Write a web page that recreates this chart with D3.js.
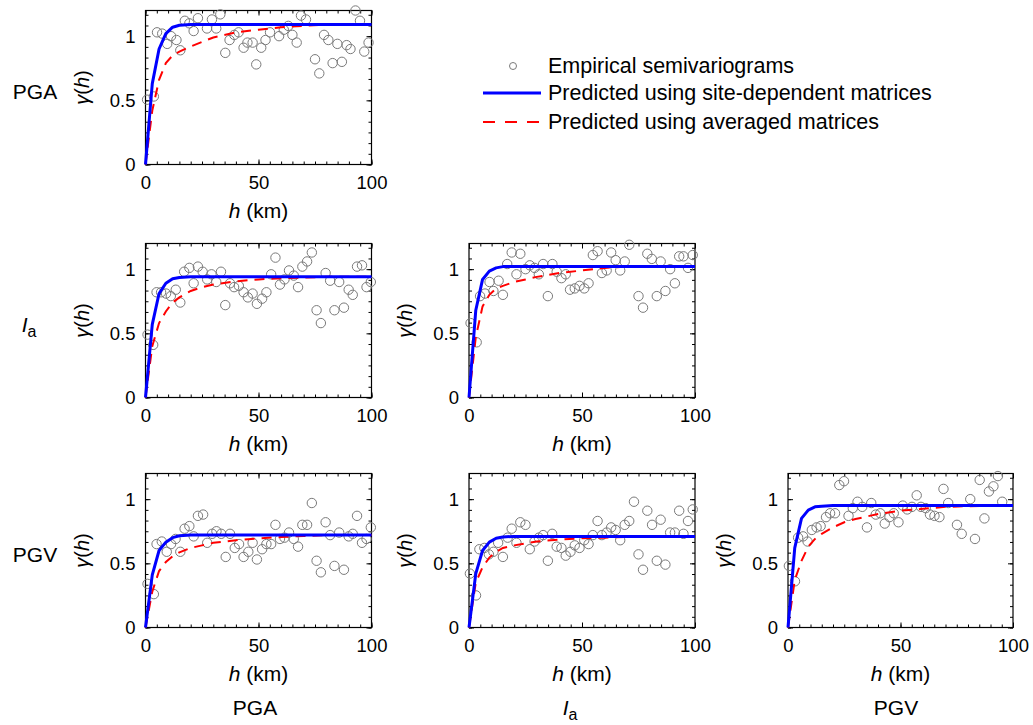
<!DOCTYPE html>
<html>
<head>
<meta charset="utf-8">
<script src="https://cdn.jsdelivr.net/npm/d3@7"></script>
<style>
  body { margin: 0; background: #fff; }
  text { font-family: "Liberation Sans", Arial, Helvetica, sans-serif; fill: #000; }
</style>
</head>
<body>
<svg id="chart" width="1033" height="725"></svg>
<script>
// Intensity measures (rows and columns of the semivariogram matrix)
const measures = ["PGA", "Ia", "PGV"];

// Axis ticks
const xTicks = [0, 50, 100];
const yTicks = [0, 0.5, 1];

// Lags (km) at which the fitted models are evaluated
const modelLag = [0, 3, 6, 9, 12, 15, 20, 25, 30, 40, 50, 60, 70, 80, 90, 100];

// PGA – PGA
const pgaPgaLag = [0.7,3.7,5.1,7.4,9.6,11.3,13.7,15.4,17.4,19.4,21.3,23.2,27.2,29.4,31.3,33.1,35.3,37.2,39.3,41.2,43.4,45.1,47.4,49.0,51.2,53.1,55.1,59.1,61.2,63.2,65.0,66.9,68.8,71.0,75.0,76.9,79.0,80.9,82.8,84.9,86.9,89.0,90.7,92.9,94.9,96.8,98.7];
const pgaPgaEmp = [0.505,0.53,1.03,1.02,0.94,1.00,0.97,0.89,1.12,1.10,1.04,1.14,1.06,1.13,1.06,1.17,0.87,0.97,1.01,1.03,0.91,0.95,0.95,0.78,0.91,0.97,1.03,1.00,1.05,1.08,1.01,0.95,1.16,1.13,0.82,0.71,1.01,0.97,0.79,0.94,0.80,0.93,0.90,1.20,1.12,0.88,0.95];
const pgaPgaSite = [0,0.63,0.90,1.02,1.07,1.085,1.09,1.09,1.09,1.09,1.09,1.09,1.09,1.09,1.09,1.09];
const pgaPgaAvg  = [0,0.42,0.66,0.79,0.85,0.88,0.92,0.955,0.99,1.03,1.05,1.07,1.08,1.09,1.09,1.09];

// Ia – PGA
const iaPgaLag = [0.9,3.4,4.9,6.9,9.1,11.2,13.4,15.4,17.1,19.4,21.3,23.2,25.3,27.3,29.2,31.3,33.4,35.3,37.4,39.2,41.3,43.4,45.3,47.4,49.3,51.6,53.5,55.6,57.5,59.5,61.5,63.5,65.6,67.5,69.4,71.5,73.6,75.7,77.6,79.7,81.7,83.6,85.7,87.8,89.9,91.7,93.6,95.8,97.8,99.7];
const iaPgaEmp = [0.49,0.41,0.82,0.82,0.81,0.79,0.84,0.74,0.98,1.01,0.89,1.02,0.98,0.92,0.96,0.90,0.98,0.72,0.89,0.86,0.87,0.82,0.78,0.81,0.73,0.77,0.82,0.96,1.09,0.88,0.92,0.99,0.95,0.86,1.02,1.06,1.13,0.68,0.58,0.97,0.91,0.68,0.90,0.70,0.84,0.80,1.02,1.03,0.86,0.90];
const iaPgaSite = [0,0.57,0.81,0.89,0.925,0.935,0.94,0.94,0.94,0.94,0.94,0.94,0.94,0.94,0.94,0.94];
const iaPgaAvg  = [0,0.40,0.58,0.67,0.74,0.78,0.83,0.86,0.88,0.905,0.92,0.93,0.935,0.94,0.94,0.94];

// Ia – Ia
const iaIaLag = [0.7,3.4,4.9,7.1,9.1,10.8,13.1,15.0,16.9,18.9,21.0,22.7,25.0,26.9,29.0,30.9,32.8,34.9,36.9,38.8,40.9,42.8,44.7,46.8,48.9,51.0,52.9,54.8,56.9,58.8,60.9,62.9,64.9,66.9,68.9,70.9,75.0,77.0,78.9,80.9,83.1,84.8,86.9,89.0,91.1,93.0,94.9,96.9,99.0];
const iaIaEmp = [0.58,0.43,0.79,0.81,0.90,0.83,0.91,0.80,1.04,1.13,0.96,1.12,1.00,1.03,1.01,0.96,1.04,0.79,1.04,0.98,0.93,0.96,0.84,0.85,0.87,0.85,0.89,1.11,1.14,0.97,0.99,1.13,1.07,0.99,1.06,1.19,0.79,0.70,1.12,1.08,0.79,1.06,0.83,1.00,0.89,1.10,1.10,1.01,1.11];
const iaIaSite = [0,0.68,0.92,0.985,1.01,1.02,1.02,1.02,1.02,1.02,1.02,1.02,1.02,1.02,1.02,1.02];
const iaIaAvg  = [0,0.47,0.71,0.80,0.85,0.87,0.90,0.92,0.94,0.97,0.99,1.01,1.02,1.02,1.02,1.02];

// PGV – PGA
const pgvPgaLag = [0.9,3.7,4.9,7.2,9.4,11.3,13.3,15.4,17.3,19.4,21.3,23.2,25.5,27.3,29.5,31.4,33.5,35.5,37.4,39.5,41.4,43.4,45.5,47.4,49.3,51.6,53.5,55.6,57.5,59.5,61.5,63.5,65.6,67.5,69.4,71.5,73.6,75.7,77.6,79.7,81.7,83.6,85.7,87.8,89.9,91.7,93.6,95.8,97.8,99.7];
const pgvPgaEmp = [0.34,0.26,0.65,0.67,0.59,0.65,0.69,0.59,0.77,0.79,0.71,0.87,0.88,0.66,0.73,0.75,0.73,0.55,0.73,0.62,0.65,0.55,0.59,0.66,0.53,0.61,0.65,0.65,0.80,0.69,0.70,0.74,0.69,0.63,0.80,0.80,0.97,0.52,0.43,0.82,0.72,0.48,0.74,0.45,0.71,0.73,0.87,0.66,0.69,0.78];
const pgvPgaSite = [0,0.41,0.60,0.665,0.70,0.715,0.72,0.72,0.72,0.72,0.72,0.72,0.72,0.72,0.72,0.72];
const pgvPgaAvg  = [0,0.28,0.44,0.51,0.555,0.585,0.62,0.64,0.66,0.68,0.695,0.705,0.713,0.72,0.72,0.72];

// PGV – Ia
const pgvIaLag = [0.4,3.1,4.6,6.8,8.8,10.8,12.9,15.0,17.1,18.9,21.0,22.7,25.0,26.9,29.0,30.9,32.8,34.9,36.8,38.8,40.9,42.8,44.9,46.8,48.9,51.0,52.9,54.8,56.9,58.8,60.9,62.9,64.9,66.9,68.9,70.9,73.0,75.0,77.0,78.9,81.0,83.1,84.8,86.9,89.0,91.1,93.0,94.9,96.9,99.0];
const pgvIaEmp = [0.42,0.25,0.61,0.62,0.57,0.59,0.66,0.55,0.70,0.77,0.66,0.82,0.80,0.61,0.67,0.70,0.72,0.52,0.73,0.63,0.62,0.56,0.59,0.64,0.62,0.68,0.65,0.72,0.83,0.72,0.74,0.78,0.76,0.68,0.80,0.83,0.98,0.57,0.45,0.91,0.80,0.52,0.84,0.49,0.74,0.74,0.91,0.73,0.83,0.92];
const pgvIaSite = [0,0.42,0.60,0.665,0.695,0.705,0.71,0.71,0.71,0.71,0.71,0.71,0.71,0.71,0.71,0.71];
const pgvIaAvg  = [0,0.35,0.47,0.545,0.59,0.62,0.64,0.655,0.67,0.685,0.695,0.70,0.705,0.71,0.71,0.71];

// PGV – PGV
const pgvPgvLag = [0.4,3.1,4.5,6.7,8.7,10.6,12.7,14.5,16.9,18.7,20.9,22.8,24.9,26.9,28.8,30.9,33.0,35.1,37.0,39.0,41.0,43.0,45.1,47.0,49.1,51.0,53.0,55.1,57.2,59.1,61.2,63.1,65.1,67.3,69.1,71.2,75.1,77.2,81.0,83.1,85.2,87.3,89.3,91.3,93.3,95.2];
const pgvPgvEmp = [0.48,0.36,0.70,0.71,0.67,0.76,0.78,0.79,0.86,0.89,0.89,1.11,1.14,0.87,0.93,0.98,0.94,0.78,0.97,0.88,0.89,0.81,0.86,0.89,0.82,0.95,0.92,0.94,1.03,0.94,0.93,0.88,0.87,0.86,1.08,0.97,0.80,0.73,1.00,0.69,1.15,0.85,1.06,1.10,1.18,0.98];
const pgvPgvSite = [0,0.62,0.85,0.915,0.94,0.945,0.95,0.95,0.95,0.95,0.95,0.95,0.95,0.95,0.95,0.95];
const pgvPgvAvg  = [0,0.37,0.52,0.63,0.69,0.73,0.78,0.82,0.845,0.885,0.91,0.925,0.94,0.945,0.95,0.95];

// Lower-triangular layout of panels
const panels = [
  { row: 0, col: 0, lag: pgaPgaLag, emp: pgaPgaEmp, site: pgaPgaSite, avg: pgaPgaAvg },
  { row: 1, col: 0, lag: iaPgaLag,  emp: iaPgaEmp,  site: iaPgaSite,  avg: iaPgaAvg },
  { row: 1, col: 1, lag: iaIaLag,   emp: iaIaEmp,   site: iaIaSite,   avg: iaIaAvg },
  { row: 2, col: 0, lag: pgvPgaLag, emp: pgvPgaEmp, site: pgvPgaSite, avg: pgvPgaAvg },
  { row: 2, col: 1, lag: pgvIaLag,  emp: pgvIaEmp,  site: pgvIaSite,  avg: pgvIaAvg },
  { row: 2, col: 2, lag: pgvPgvLag, emp: pgvPgvEmp, site: pgvPgvSite, avg: pgvPgvAvg }
];

const colLeft = [145.5, 469, 788];
const colWidth = [226, 226, 225];
const rowTop = [10.5, 243.5, 473.5];
const panelHeight = 154;

const BLUE = "#0000ff", RED = "#ff0000", GREY = "#7a7a7a";
const TICK_FS = 18.5;   // tick labels
const FS = 21;          // titles and labels

const svg = d3.select("#chart");

// Writes a measure name; "Ia" becomes italic I with subscript a
function measureLabel(sel, name) {
  if (name === "Ia") {
    sel.append("tspan").attr("font-style", "italic").text("I");
    sel.append("tspan").attr("font-size", 16).attr("dy", 5).text("a");
  } else {
    sel.text(name);
  }
}

panels.forEach(p => {
  const left = colLeft[p.col], top = rowTop[p.row];
  const w = colWidth[p.col], h = panelHeight;
  const g = svg.append("g").attr("transform", `translate(${left},${top})`);

  const x = d3.scaleLinear().domain([0, 100]).range([0, w]);
  const y = d3.scaleLinear().domain([0, 1.2]).range([h, 0]);

  const minorX = d3.range(0, 100.001, 5);
  const minorY = d3.range(0, 1.2, 0.5 / 6);

  const styleAxis = a => {
    a.select(".domain").remove();
    a.selectAll("line").attr("stroke", "#000").attr("stroke-width", 1);
    a.selectAll("text").attr("font-size", TICK_FS).attr("font-family", '"Liberation Sans", Arial, sans-serif');
  };

  // minor ticks on all four sides (inward)
  g.append("g").attr("transform", `translate(0,${h})`)
    .call(d3.axisBottom(x).tickValues(minorX).tickSize(-3).tickFormat("")).call(styleAxis);
  g.append("g")
    .call(d3.axisTop(x).tickValues(minorX).tickSize(-3).tickFormat("")).call(styleAxis);
  g.append("g")
    .call(d3.axisLeft(y).tickValues(minorY).tickSize(-3).tickFormat("")).call(styleAxis);
  g.append("g").attr("transform", `translate(${w},0)`)
    .call(d3.axisRight(y).tickValues(minorY).tickSize(-3).tickFormat("")).call(styleAxis);

  // major ticks
  g.append("g").attr("transform", `translate(0,${h})`)
    .call(d3.axisBottom(x).tickValues(xTicks).tickSize(-5).tickPadding(11).tickFormat(d3.format("d")))
    .call(styleAxis);
  g.append("g")
    .call(d3.axisTop(x).tickValues(xTicks).tickSize(-5).tickFormat("")).call(styleAxis);
  g.append("g")
    .call(d3.axisLeft(y).tickValues(yTicks).tickSize(-5).tickPadding(10).tickFormat(d3.format("~g")))
    .call(styleAxis);
  g.append("g").attr("transform", `translate(${w},0)`)
    .call(d3.axisRight(y).tickValues(yTicks).tickSize(-5).tickFormat("")).call(styleAxis);

  // frame
  g.append("rect").attr("width", w).attr("height", h)
    .attr("fill", "none").attr("stroke", "#000").attr("stroke-width", 1.2);

  // empirical semivariogram points
  g.append("g").selectAll("circle")
    .data(p.lag.map((d, i) => [d, p.emp[i]]))
    .join("circle")
    .attr("cx", d => x(d[0])).attr("cy", d => y(d[1])).attr("r", 4.7)
    .attr("fill", "none").attr("stroke", GREY).attr("stroke-width", 1);

  const line = d3.line().x(d => x(d[0])).y(d => y(d[1]));

  // averaged-matrix model (dashed red)
  g.append("path").datum(modelLag.map((d, i) => [d, p.avg[i]]))
    .attr("d", line).attr("fill", "none").attr("stroke", RED)
    .attr("stroke-width", 2).attr("stroke-dasharray", "10,7");

  // site-dependent model (solid blue)
  g.append("path").datum(modelLag.map((d, i) => [d, p.site[i]]))
    .attr("d", line).attr("fill", "none").attr("stroke", BLUE)
    .attr("stroke-width", 3).attr("stroke-linejoin", "round");

  // axis titles
  const xt = g.append("text").attr("x", w / 2).attr("y", h + 53)
    .attr("text-anchor", "middle").attr("font-size", FS);
  xt.append("tspan").attr("font-style", "italic").text("h");
  xt.append("tspan").text(" (km)");

  const yt = g.append("text")
    .attr("transform", `translate(-57,${h / 2}) rotate(-90)`)
    .attr("text-anchor", "middle").attr("font-size", 20);
  yt.append("tspan").attr("font-style", "italic").text("γ");
  yt.append("tspan").text("(");
  yt.append("tspan").attr("font-style", "italic").text("h");
  yt.append("tspan").text(")");
});

// row labels
const rowLabelX = [35, 29, 35];
measures.forEach((m, i) => {
  const t = svg.append("text")
    .attr("x", rowLabelX[i]).attr("y", rowTop[i] + panelHeight / 2 + 11)
    .attr("text-anchor", "middle").attr("font-size", FS);
  measureLabel(t, m);
});

// column labels
const colLabelX = [255, 570, 896];
measures.forEach((m, i) => {
  const t = svg.append("text")
    .attr("x", colLabelX[i]).attr("y", 715)
    .attr("text-anchor", "middle").attr("font-size", FS);
  measureLabel(t, m);
});

// legend
const legend = svg.append("g").attr("transform", "translate(483,66)");
const legendRows = [
  { label: "Empirical semivariograms", type: "circle" },
  { label: "Predicted using site-dependent matrices", type: "solid" },
  { label: "Predicted using averaged matrices", type: "dashed" }
];
legendRows.forEach((r, i) => {
  const yy = [0, 27, 56][i];
  if (r.type === "circle") {
    legend.append("circle").attr("cx", 30).attr("cy", yy).attr("r", 3.5)
      .attr("fill", "none").attr("stroke", GREY).attr("stroke-width", 1);
  } else {
    legend.append("line").attr("x1", 0).attr("x2", 58).attr("y1", yy).attr("y2", yy)
      .attr("stroke", r.type === "solid" ? BLUE : RED)
      .attr("stroke-width", r.type === "solid" ? 3 : 2)
      .attr("stroke-dasharray", r.type === "solid" ? null : "12,10");
  }
  legend.append("text").attr("x", 65).attr("y", yy + 7)
    .attr("font-size", 21.5).text(r.label);
});
</script>
</body>
</html>
